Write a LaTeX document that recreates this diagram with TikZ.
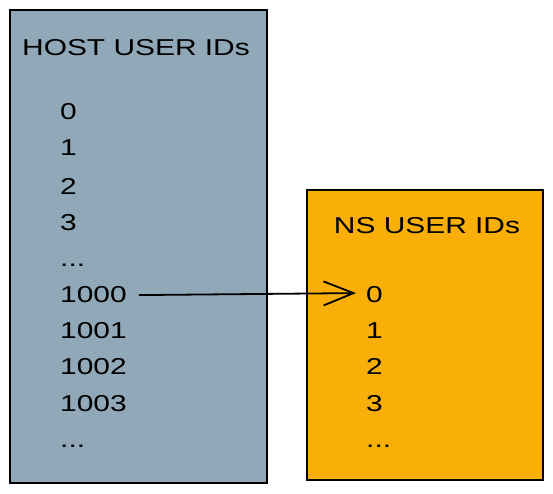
\documentclass[tikz,border=0pt]{standalone}
\usepackage{fontspec}
\usetikzlibrary{arrows.meta}
\newfontfamily\handfont[FakeStretch=1.3]{Liberation Sans}
\definecolor{hostc}{HTML}{91A8B8}
\definecolor{nsc}{HTML}{F9AF07}
\tikzset{
  box/.style={draw=black, line width=2pt, inner sep=0pt},
  lbl/.style={anchor=base west, inner sep=0pt, font=\handfont\fontsize{23}{23}\selectfont},
  ttl/.style={anchor=base, inner sep=0pt, font=\handfont\fontsize{23}{23}\selectfont},
  conn/.style={line width=1.8pt, -{Straight Barb[length=30pt,width=24pt,line width=1.8pt]}}
}
\begin{document}
\begin{tikzpicture}[x=1pt,y=-1pt]
\useasboundingbox[fill=white] (0,0) rectangle (553,494);
\node[box, fill=hostc, minimum width=257pt, minimum height=473pt] (host) at (138.5,246.5) {};
\node[box, fill=nsc, minimum width=236pt, minimum height=290pt] (ns) at (425,335) {};
\node[ttl] (htitle) at (136,56) {HOST USER IDs};
\node[ttl] (ntitle) at (427,233) {NS USER IDs};
\node[lbl] (h0) at (60,120) {0};
\node[lbl] (h1) at (60,156) {1};
\node[lbl] (h2) at (60,194) {2};
\node[lbl] (h3) at (60,230) {3};
\node[lbl] (hd1) at (60,266) {...};
\node[lbl] (h1000) at (60,302) {1000};
\node[lbl] (h1001) at (60,338) {1001};
\node[lbl] (h1002) at (60,374) {1002};
\node[lbl] (h1003) at (60,411) {1003};
\node[lbl] (hd2) at (60,447) {...};
\node[lbl] (n0) at (366,302) {0};
\node[lbl] (n1) at (366,338) {1};
\node[lbl] (n2) at (366,374) {2};
\node[lbl] (n3) at (366,411) {3};
\node[lbl] (nd) at (366,447) {...};
\draw[conn] ([xshift=12pt,yshift=-1pt]h1000.east) -- ([xshift=-10pt,yshift=1pt]n0.west);
\end{tikzpicture}
\end{document}
